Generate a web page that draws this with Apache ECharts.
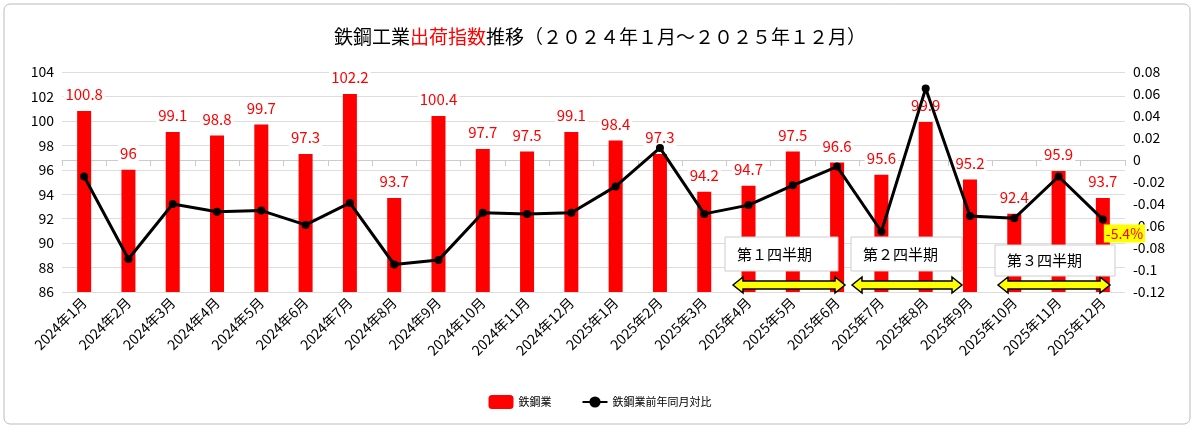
<!DOCTYPE html>
<html><head><meta charset="utf-8">
<script src="https://cdn.jsdelivr.net/npm/echarts@6/dist/echarts.min.js"></script>
<style>html,body{margin:0;background:#fff}#c{width:1200px;height:432px}</style>
</head><body><div id="c"></div>
<script>
// 月ラベル
var months = ['2024年1月','2024年2月','2024年3月','2024年4月','2024年5月','2024年6月','2024年7月','2024年8月','2024年9月','2024年10月','2024年11月','2024年12月',
  '2025年1月','2025年2月','2025年3月','2025年4月','2025年5月','2025年6月','2025年7月','2025年8月','2025年9月','2025年10月','2025年11月','2025年12月'];
// 鉄鋼業 出荷指数
var shipIndex = [100.8,96,99.1,98.8,99.7,97.3,102.2,93.7,100.4,97.7,97.5,99.1,98.4,97.3,94.2,94.7,97.5,96.6,95.6,99.9,95.2,92.4,95.9,93.7];
// 前年同月対比
var yoy = [-0.015,-0.09,-0.04,-0.047,-0.046,-0.059,-0.039,-0.095,-0.091,-0.048,-0.049,-0.048,-0.024,0.011,-0.049,-0.041,-0.023,-0.006,-0.065,0.065,-0.051,-0.053,-0.015,-0.054];
var quarters = [['第１四半期',725,838,237,271,733,845],['第２四半期',851,962,237,271,852,962],['第３四半期',995,1115,245,276,998,1110]];

var chart = echarts.init(document.getElementById('c'));
var font = '"Noto Sans CJK JP", sans-serif';
var g = [{type:'rect',shape:{x:4,y:4,width:1186,height:420,r:6},style:{fill:'none',stroke:'#bbb',lineWidth:1}}];
quarters.forEach(function(q){
  var y = 285, x1 = q[5], x2 = q[6];
  g.push({type:'polygon',z:10,shape:{points:[[x1,y],[x1+10,y-8],[x1+10,y-4],[x2-10,y-4],[x2-10,y-8],[x2,y],[x2-10,y+8],[x2-10,y+4],[x1+10,y+4],[x1+10,y+8]]},style:{fill:'#ffff00',stroke:'#000',lineWidth:1.5}});
  g.push({type:'rect',z:10,shape:{x:q[1],y:q[3],width:q[2]-q[1],height:q[4]-q[3]},style:{fill:'#fff',stroke:'#ccc'}});
  g.push({type:'text',z:11,style:{x:q[1]+12,y:(q[3]+q[4])/2,text:q[0],fill:'#000',font:'15px '+font,verticalAlign:'middle'}});
});
var yoyData = yoy.map(function(v,i){
  if (i !== yoy.length-1) return v;
  return {value:v,label:{show:true,formatter:(v*100).toFixed(1)+'%',position:'right',offset:[-8,14],
    color:'#ff0000',fontSize:14,backgroundColor:'#ffff00',padding:[2,2]}};
});
chart.setOption({
  textStyle:{fontFamily:font},
  title:{left:'center',top:22,text:'{a|鉄鋼工業}{b|出荷指数}{a|推移（２０２４年１月～２０２５年１２月）}',
    textStyle:{rich:{a:{fontSize:19,color:'#000',fontFamily:font,fontWeight:'normal'},b:{fontSize:19,color:'#ff0000',fontFamily:font,fontWeight:'normal'}}}},
  legend:{bottom:18,itemGap:30,textStyle:{fontSize:11,color:'#000'},data:['鉄鋼業','鉄鋼業前年同月対比']},
  grid:{left:62,right:75,top:72,bottom:140},
  xAxis:{type:'category',data:months,axisTick:{show:true,length:6,lineStyle:{color:'#ccc'}},axisLine:{lineStyle:{color:'#ccc'}},
    axisLabel:{rotate:45,color:'#000',fontSize:14,interval:0,margin:8}},
  yAxis:[{type:'value',min:86,max:104,interval:2,axisLabel:{color:'#000',fontSize:14},splitLine:{lineStyle:{color:'#ddd'}}},
    {type:'value',min:-0.12,max:0.08,interval:0.02,axisLabel:{color:'#000',fontSize:14,formatter:function(v){return +v.toFixed(2)+'';}},splitLine:{show:false}}],
  series:[
    {name:'鉄鋼業',type:'bar',data:shipIndex,barWidth:14,itemStyle:{color:'#ff0000'},
      label:{show:true,position:'top',distance:8,color:'#ff0000',fontSize:15,backgroundColor:'#fff',padding:[1,2]}},
    {name:'鉄鋼業前年同月対比',type:'line',yAxisIndex:1,data:yoyData,symbol:'circle',symbolSize:8,z:5,
      itemStyle:{color:'#000'},lineStyle:{color:'#000',width:3},label:{show:false}}
  ],
  graphic:g
});
</script></body></html>
